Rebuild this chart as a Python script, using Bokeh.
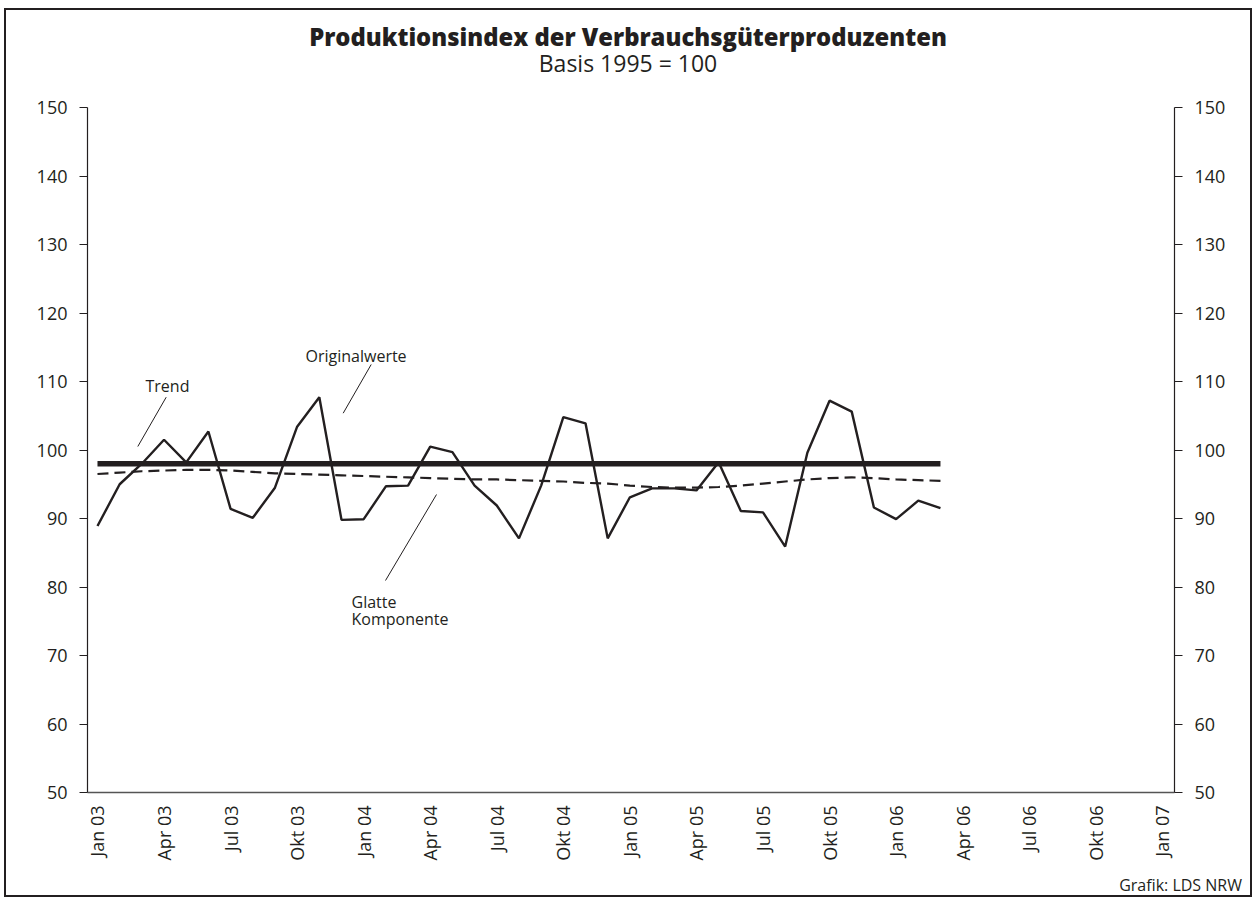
from bokeh.plotting import figure
from bokeh.models import Range1d, LinearAxis, FixedTicker, Label, Div
from bokeh.layouts import column
from bokeh.embed import file_html
from bokeh.resources import INLINE
from math import pi

# ---- data -------------------------------------------------------------
# monthly values Jan 2003 .. Mar 2006 (index 0 = Jan 03)
originalwerte = [88.9, 95.0, 98.0, 101.5, 98.2, 102.7, 91.4, 90.1, 94.5, 103.4, 107.7, 89.8,
                 89.9, 94.7, 94.8, 100.5, 99.7, 94.8, 91.9, 87.1, 94.8, 104.8, 103.9, 87.1,
                 93.1, 94.4, 94.4, 94.1, 98.2, 91.1, 90.9, 85.9, 99.6, 107.2, 105.6, 91.6,
                 89.9, 92.6, 91.5]
glatte_komponente = [96.5, 96.7, 96.9, 97.0, 97.1, 97.1, 97.0, 96.8, 96.6, 96.5, 96.4, 96.3,
                     96.2, 96.1, 96.0, 95.9, 95.8, 95.7, 95.7, 95.6, 95.5, 95.4, 95.2, 95.1,
                     94.8, 94.6, 94.5, 94.5, 94.6, 94.8, 95.1, 95.4, 95.7, 95.9, 96.0, 95.9,
                     95.7, 95.6, 95.5]
trend = [98.0] * len(originalwerte)
month_index = list(range(len(originalwerte)))

tick_positions = [0, 3, 6, 9, 12, 15, 18, 21, 24, 27, 30, 33, 36, 39, 42, 45, 48]
tick_labels = ["Jan 03", "Apr 03", "Jul 03", "Okt 03", "Jan 04", "Apr 04", "Jul 04", "Okt 04",
               "Jan 05", "Apr 05", "Jul 05", "Okt 05", "Jan 06", "Apr 06", "Jul 06", "Okt 06",
               "Jan 07"]
y_ticks = [50, 60, 70, 80, 90, 100, 110, 120, 130, 140, 150]

title_text = "Produktionsindex der Verbrauchsgüterproduzenten"
subtitle_text = "Basis 1995 = 100"
source_text = "Grafik: LDS NRW"

# ---- layout -------------------------------------------------------------
INK = "#231f20"
FONT = "Open Sans"
# outer box: border at page (4, 8); content starts 2px further in
CX0, CY0 = 6, 10
CW, CH = 1244, 885
TOP_H, BOT_H = 80, 28
PLOT_H = CH - TOP_H - BOT_H
PLOT_Y0 = CY0 + TOP_H
FRAME_L, FRAME_R, FRAME_T, FRAME_B = 87, 1174, 107, 792   # page pixels
X_LO, X_HI = -0.45, 48.55
Y_LO, Y_HI = 50, 150

def dx(px):
    return X_LO + (px - FRAME_L) * (X_HI - X_LO) / (FRAME_R - FRAME_L)

def dy(py):
    return Y_LO + (FRAME_B - py) * (Y_HI - Y_LO) / (FRAME_B - FRAME_T)

head = Div(width=CW, height=TOP_H, margin=0, text=(
    f'<div style="width:{CW - 5}px;padding-left:5px;text-align:center;'
    f'font-family:\'Open Sans\';color:{INK};">'
    f'<div style="font-weight:800;font-size:23.8px;line-height:23.8px;padding-top:16px;">{title_text}</div>'
    f'<div style="font-size:23px;line-height:23px;margin-top:2px;">{subtitle_text}</div>'
    '</div>'))
foot = Div(width=CW, height=BOT_H, margin=0, text=(
    f'<div style="width:{CW - 8}px;text-align:right;font-family:\'Open Sans\';color:{INK};'
    f'font-size:16px;line-height:16px;padding-top:10px;">{source_text}</div>'))

p = figure(width=CW, height=PLOT_H, output_backend="svg", toolbar_location=None,
           x_range=Range1d(X_LO, X_HI), y_range=Range1d(Y_LO, Y_HI), margin=0,
           min_border_left=FRAME_L - CX0, min_border_right=CX0 + CW - FRAME_R,
           min_border_top=FRAME_T - PLOT_Y0, min_border_bottom=PLOT_Y0 + PLOT_H - FRAME_B)
p.outline_line_color = None
p.xgrid.grid_line_color = None
p.ygrid.grid_line_color = None
p.background_fill_color = "white"
p.border_fill_color = "white"

# x axis
xa = p.xaxis[0]
xa.ticker = FixedTicker(ticks=tick_positions)
xa.major_label_overrides = {t: l for t, l in zip(tick_positions, tick_labels)}
xa.major_label_orientation = pi / 2
xa.major_tick_out = 0
xa.major_tick_in = 0
xa.minor_tick_out = 0
xa.minor_tick_in = 0
xa.major_label_standoff = 13
xa.axis_line_color = "#555555"
xa.axis_line_width = 1.5
xa.major_label_text_font = FONT
xa.major_label_text_font_size = "18px"
xa.major_label_text_color = INK

# y axes
ya = p.yaxis[0]
ya2 = LinearAxis()
p.add_layout(ya2, "right")
for a in (ya, ya2):
    a.ticker = FixedTicker(ticks=y_ticks)
    a.major_tick_out = 8
    a.major_tick_in = 0
    a.minor_tick_out = 0
    a.minor_tick_in = 0
    a.major_label_standoff = 12
    a.axis_line_color = INK
    a.major_tick_line_color = INK
    a.axis_line_width = 1.2
    a.major_label_text_font = FONT
    a.major_label_text_font_size = "18px"
    a.major_label_text_color = INK

# ---- series -------------------------------------------------------------
p.line(month_index, trend, line_color=INK, line_width=5.5)
p.line(month_index, glatte_komponente, line_color=INK, line_width=2.2, line_dash="11 6")
p.line(month_index, originalwerte, line_color=INK, line_width=2.4)

# ---- annotations ---------------------------------------------------------
def label(px, py, text, size, align="left"):
    p.add_layout(Label(x=dx(px), y=dy(py), text=text, text_font=FONT,
                       text_font_size=size, text_align=align,
                       text_baseline="alphabetic", text_color=INK))

label(145, 385, "Trend", "16px")
label(305, 355, "Originalwerte", "16px")
label(351, 601, "Glatte", "16px")
label(351, 618, "Komponente", "16px")

leaders = [((165.7, 396.7), (137.3, 446.0)),
           ((370.7, 364.0), (342.7, 412.7)),
           ((436.0, 494.0), (385.0, 580.0))]
p.segment(x0=[dx(a[0]) for a, b in leaders], y0=[dy(a[1]) for a, b in leaders],
          x1=[dx(b[0]) for a, b in leaders], y1=[dy(b[1]) for a, b in leaders],
          line_color=INK, line_width=1)

page = column(head, p, foot, spacing=0, width=CW + 4, height=CH + 4,
              styles={"border": "2px solid " + INK, "box-sizing": "border-box",
                      "margin-left": "4px", "margin-top": "8px",
                      "background": "white"})

open("out.html", "w").write(file_html(page, INLINE))
